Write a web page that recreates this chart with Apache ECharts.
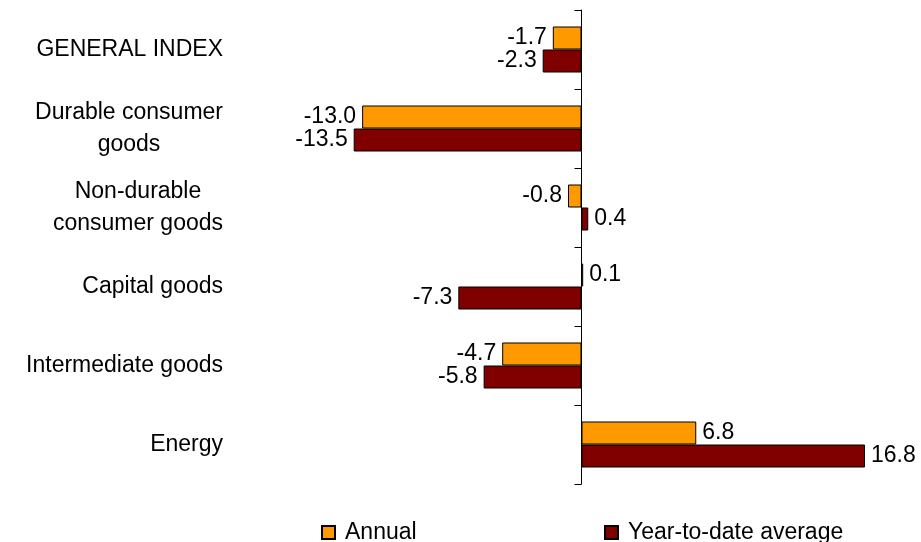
<!DOCTYPE html>
<html>
<head>
<meta charset="utf-8">
<script src="https://cdn.jsdelivr.net/npm/echarts@6/dist/echarts.min.js"></script>
<style>
  html, body { margin: 0; padding: 0; background: #fff; }
  #chart { width: 921px; height: 542px; }
</style>
</head>
<body>
<div id="chart"></div>
<script>
var categories = ['GENERAL INDEX', 'Durable consumer\ngoods', 'Non-durable\nconsumer goods', 'Capital goods', 'Intermediate goods', 'Energy'];
var seriesNames = ['Annual', 'Year-to-date average'];
var annualValues = [-1.7, -13.0, -0.8, 0.1, -4.7, 6.8];
var ytdValues = [-2.3, -13.5, 0.4, -7.3, -5.8, 16.8];

var colors = ['#ff9900', '#800000'];
var fontFamily = '"Liberation Sans", Arial, sans-serif';

function toItems (values) {
  return values.map(function (v) {
    return {
      value: v,
      label: { position: v < 0 ? 'left' : 'right' }
    };
  });
}

function makeSeries (name, values, index) {
  return {
    name: name,
    type: 'bar',
    yAxisIndex: 0,
    barWidth: 23,
    barGap: '0%',
    itemStyle: {
      color: colors[index],
      borderColor: '#000',
      borderWidth: 1
    },
    label: {
      show: true,
      distance: 6,
      color: '#000',
      fontSize: 23,
      fontFamily: fontFamily,
      formatter: function (p) { return p.value.toFixed(1); }
    },
    data: toItems(values)
  };
}

var chart = echarts.init(document.getElementById('chart'));

var option = {
  backgroundColor: '#fff',
  animation: false,
  grid: { left: 244, right: 2, top: 10, bottom: 58, containLabel: false },
  legend: [
    {
      data: [seriesNames[0]],
      left: 316, top: 516,
      icon: 'rect', itemWidth: 13, itemHeight: 13,
      textStyle: { color: '#000', fontSize: 23, fontFamily: fontFamily, padding: [0, 0, 0, 5] }
    },
    {
      data: [seriesNames[1]],
      left: 599, top: 516,
      icon: 'rect', itemWidth: 13, itemHeight: 13,
      textStyle: { color: '#000', fontSize: 23, fontFamily: fontFamily, padding: [0, 0, 0, 5] }
    }
  ],
  xAxis: {
    type: 'value',
    min: -20,
    max: 20,
    show: false
  },
  yAxis: [
    {
      type: 'category',
      data: categories,
      inverse: true,
      axisLine: { show: false, onZero: false },
      axisTick: { show: false },
      axisLabel: {
        margin: 21,
        align: 'right',
        color: '#000',
        fontSize: 23,
        fontFamily: fontFamily,
        formatter: function (v) {
          return v.split('\n').map(function (s) { return '{c|' + s + '}'; }).join('\n');
        },
        rich: {
          c: { align: 'center', color: '#000', fontSize: 23, fontFamily: fontFamily, lineHeight: 32 }
        }
      }
    },
    {
      type: 'category',
      data: categories,
      inverse: true,
      position: 'left',
      axisLine: { show: true, onZero: true, lineStyle: { color: '#000', width: 1 } },
      axisTick: { show: true, length: 7, lineStyle: { color: '#000' } },
      axisLabel: { show: false }
    }
  ],
  series: [
    makeSeries(seriesNames[0], annualValues, 0),
    makeSeries(seriesNames[1], ytdValues, 1)
  ]
};

chart.setOption(option);
</script>
</body>
</html>
